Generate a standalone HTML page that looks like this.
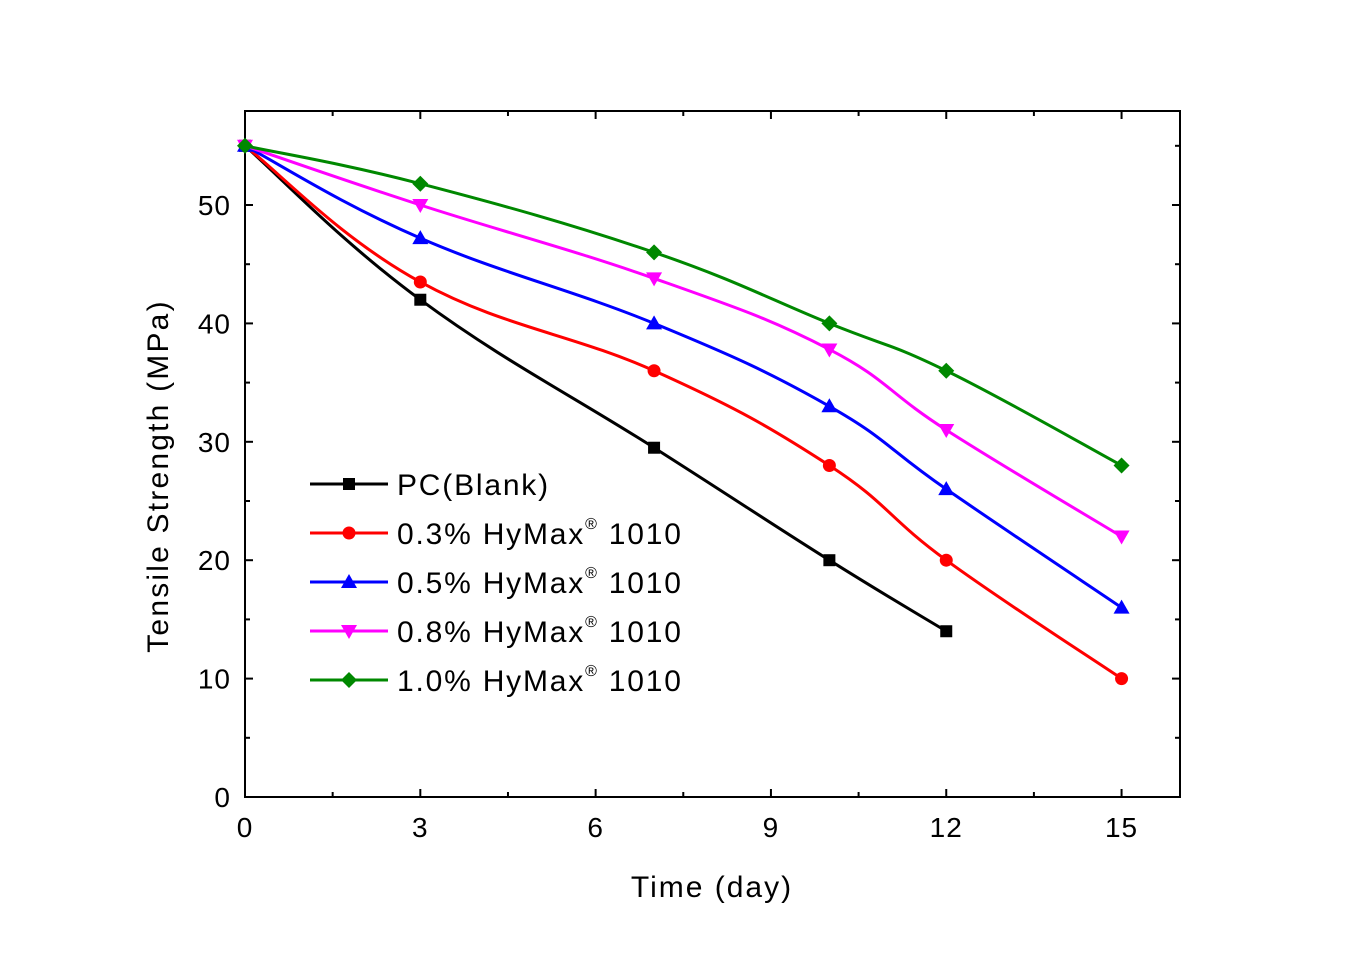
<!DOCTYPE html>
<html><head><meta charset="utf-8"><style>
body{margin:0;background:#fff}
svg{display:block;font-family:"Liberation Sans",Arial,sans-serif}
</style></head><body>
<svg id="chart" width="1371" height="958" viewBox="0 0 1371 958">
<g id="plot"></g>
</svg>
<script>
const days=[0,3,7,10,12,15];
const blank=[55,42,29.5,20,14];
const hy03=[55,43.5,36,28,20,10];
const hy05=[55,47.2,40,33,26,16];
const hy08=[55,50,43.8,37.8,31,22];
const hy10=[55,51.8,46,40,36,28];
const seriesNames=["PC(Blank)","0.3% HyMax","0.5% HyMax","0.8% HyMax","1.0% HyMax"];
const xTicks=[0,3,6,9,12,15];
const yTicks=[0,10,20,30,40,50];

const L=245,R=1180,T=111,B=797,XMAX=16,YMAX=57.94;
const sx=v=>L+v/XMAX*(R-L);
const sy=v=>B-v/YMAX*(B-T);
const NS="http://www.w3.org/2000/svg";
const g=document.getElementById('plot');
function el(tag,attrs,parent){const e=document.createElementNS(NS,tag);for(const k in attrs)e.setAttribute(k,attrs[k]);(parent||g).appendChild(e);return e;}

const frame=el('rect',{x:L,y:T,width:R-L,height:B-T,fill:'none',stroke:'#000','stroke-width':2});



for(let v=0;v<=XMAX;v+=1.5){
  const major=xTicks.includes(v);const len=major?8:5;
  el('line',{x1:sx(v),x2:sx(v),y1:B,y2:B-len,stroke:'#000','stroke-width':2});
  el('line',{x1:sx(v),x2:sx(v),y1:T,y2:T+len,stroke:'#000','stroke-width':2});
}
xTicks.forEach(v=>{const t=el('text',{x:sx(v),y:B+40,'font-size':28,'text-anchor':'middle','letter-spacing':1});t.textContent=v;

});
for(let v=0;v<=55;v+=5){
  const major=v%10===0;const len=major?8:5;
  el('line',{x1:L,x2:L+len,y1:sy(v),y2:sy(v),stroke:'#000','stroke-width':2});
  el('line',{x1:R,x2:R-len,y1:sy(v),y2:sy(v),stroke:'#000','stroke-width':2});
}
yTicks.forEach(v=>{const t=el('text',{x:L-14,y:sy(v)+10,'font-size':28,'text-anchor':'end','letter-spacing':1});t.textContent=v;

});

const xt=el('text',{x:712,y:897,'font-size':30,'text-anchor':'middle','letter-spacing':2});xt.textContent='Time (day)';


const yt=el('text',{x:0,y:0,'font-size':30,'text-anchor':'middle','letter-spacing':2.2,transform:'translate(168,476) rotate(-90)'});yt.textContent='Tensile Strength (MPa)';



function spline(pts){
  let d=`M${pts[0][0]},${pts[0][1]}`;
  const k=5;
  for(let i=0;i<pts.length-1;i++){
    const p0=pts[Math.max(i-1,0)],p1=pts[i],p2=pts[i+1],p3=pts[Math.min(i+2,pts.length-1)];
    const c1=[p1[0]+(p2[0]-p0[0])/k,p1[1]+(p2[1]-p0[1])/k];
    const c2=[p2[0]-(p3[0]-p1[0])/k,p2[1]-(p3[1]-p1[1])/k];
    d+=` C${c1[0]},${c1[1]} ${c2[0]},${c2[1]} ${p2[0]},${p2[1]}`;
  }
  return d;
}
function marker(shape,x,y,color,parent){
  let m;
  if(shape==='square')m=el('rect',{x:x-6,y:y-6,width:12,height:12,fill:color},parent);
  else if(shape==='circle')m=el('circle',{cx:x,cy:y,r:6.5,fill:color},parent);
  else if(shape==='up')m=el('polygon',{points:`${x},${y-8} ${x-8},${y+6} ${x+8},${y+6}`,fill:color},parent);
  else if(shape==='down')m=el('polygon',{points:`${x},${y+8} ${x-8},${y-6} ${x+8},${y-6}`,fill:color},parent);
  else m=el('polygon',{points:`${x},${y-8} ${x+8},${y} ${x},${y+8} ${x-8},${y}`,fill:color},parent);
  return m;
}
const all=[blank,hy03,hy05,hy08,hy10];
const colors=['#000','#f00','#00f','#f0f','#080'];
const shapes=['square','circle','up','down','diamond'];
const keys=['blank','03','05','08','10'];
all.forEach((vals,si)=>{
  const grp=el('g',{});
  
  
  const pts=vals.map((v,i)=>[sx(days[i]),sy(v)]);
  el('path',{d:spline(pts),fill:'none',stroke:colors[si],'stroke-width':3},grp);
  pts.forEach(p=>{const m=marker(shapes[si],p[0],p[1],colors[si],grp);
    
    });
});
const lg=el('g',{});


seriesNames.forEach((n,i)=>{
  const y=484+i*49;
  const e=el('g',{},lg);
  
  
  el('line',{x1:310,x2:388,y1:y,y2:y,stroke:colors[i],'stroke-width':3},e);
  marker(shapes[i],349,y,colors[i],e);
  const t=el('text',{x:397,y:y+11,'font-size':30,'letter-spacing':1.8},e);
  t.textContent=n;
  if(i>0){const s=document.createElementNS(NS,'tspan');s.setAttribute('font-size',16);s.setAttribute('dy',-15);s.textContent='®';t.appendChild(s);
    const s2=document.createElementNS(NS,'tspan');s2.setAttribute('dy',15);s2.textContent=' 1010';t.appendChild(s2);}
});
</script>
</body></html>
